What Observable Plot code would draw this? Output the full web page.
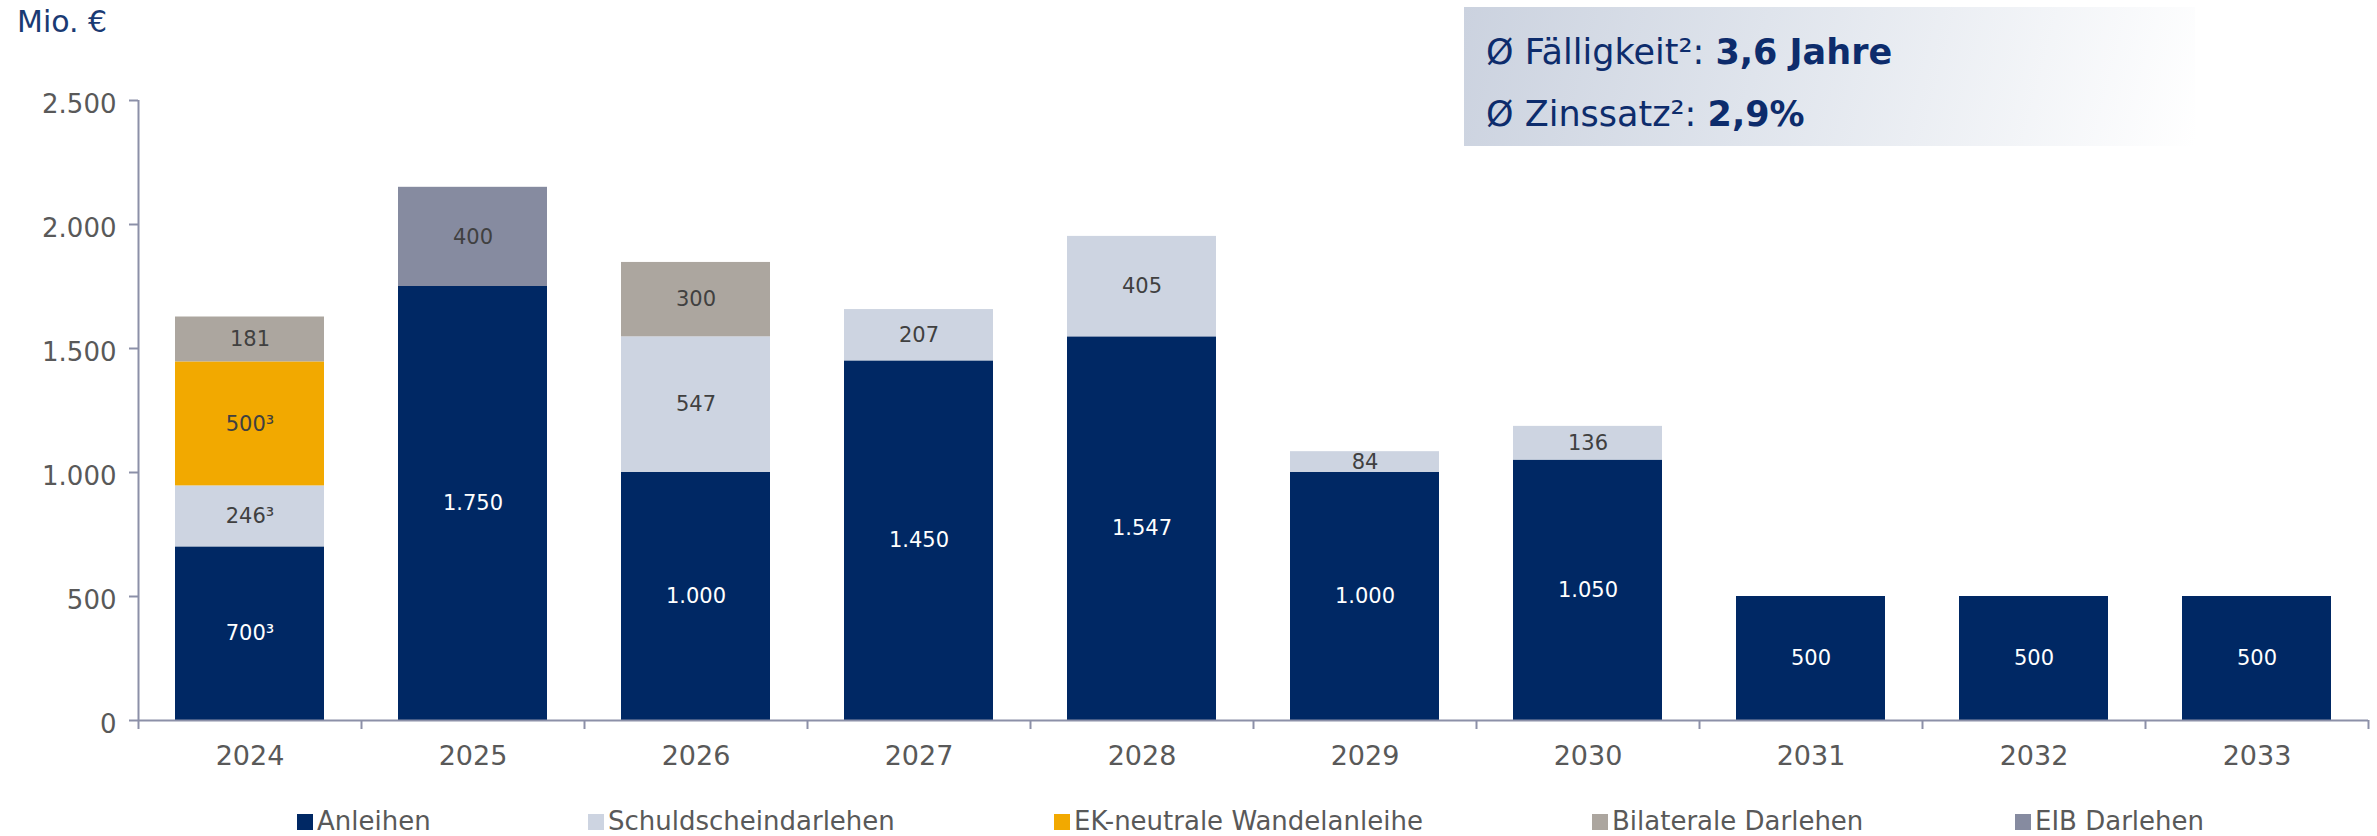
<!DOCTYPE html>
<html><head><meta charset="utf-8">
<script src="https://cdn.jsdelivr.net/npm/d3@7"></script>
<script src="https://cdn.jsdelivr.net/npm/@observablehq/plot@0.6"></script>
<style>
body{margin:0;background:#fff;font-family:"DejaVu Sans",Verdana,sans-serif;}
#wrap{position:relative;width:2377px;height:836px;overflow:hidden;}
#title{position:absolute;left:17px;top:7px;font-size:30px;line-height:30px;color:#1a3a73;white-space:nowrap;}
#box{position:absolute;left:1464px;top:7px;width:731px;height:139px;background:linear-gradient(105deg,#cbd2df 0%,#dfe4ec 40%,#ffffff 100%);}
.bl{position:absolute;left:22px;font-size:35px;line-height:35px;color:#0d2c6c;white-space:nowrap;}
.bl b{font-weight:bold;}
#legend{position:absolute;left:0;top:788px;width:2377px;height:48px;}
.li{position:absolute;top:0;height:48px;}
.sq{position:absolute;top:26px;left:0;width:16px;height:16px;}
.lt{position:absolute;top:20px;left:20px;font-size:26px;line-height:26px;color:#595959;white-space:nowrap;}
</style>
</head><body>
<div id="wrap">
  <div id="chart"></div>
  <div id="title"></div>
  <div id="box"></div>
  <div id="legend"></div>
</div>
<script>
// ---- data ----
const years = ["2024","2025","2026","2027","2028","2029","2030","2031","2032","2033"];
const seriesNames = ["Anleihen","Schuldscheindarlehen","EK-neutrale Wandelanleihe","Bilaterale Darlehen","EIB Darlehen"];
const seriesColors = ["#002864","#cdd4e1","#f2a900","#aca69f","#868ba0"];
const anleihen      = [700,1750,1000,1450,1547,1000,1050,500,500,500];
const schuldschein  = [246,0,547,207,405,84,136,0,0,0];
const wandelanleihe = [500,0,0,0,0,0,0,0,0,0];
const bilateral     = [181,0,300,0,0,0,0,0,0,0];
const eib           = [0,400,0,0,0,0,0,0,0,0];
const noteYear = "2024";
const noteSeries = ["Anleihen","Schuldscheindarlehen","EK-neutrale Wandelanleihe"];
const yTicks = [0,500,1000,1500,2000,2500];
const legendX = [297,588,1054,1592,2015];
const titleText = "Mio. €";
const boxLines = [["Ø Fälligkeit²: ","3,6 Jahre"],["Ø Zinssatz²: ","2,9%"]];

// ---- build ----
const seriesValues = [anleihen, schuldschein, wandelanleihe, bilateral, eib];
const fmt = d3.formatLocale({decimal:",",thousands:".",grouping:[3],currency:["","€"]}).format(",d");
const rows = [];
years.forEach((yr, i) => {
  let acc = 0;
  seriesNames.forEach((s, j) => {
    const v = seriesValues[j][i];
    if (v > 0) {
      const note = (yr === noteYear && noteSeries.includes(s)) ? "³" : "";
      rows.push({year: yr, series: s, value: v, y1: acc, y2: acc + v, mid: acc + v / 2, label: fmt(v) + note});
      acc += v;
    }
  });
});

const axisColor = "#8c90a8";
const plot = Plot.plot({
  width: 2377, height: 788,
  marginLeft: 138, marginRight: 9, marginTop: 100, marginBottom: 68,
  x: {type: "band", domain: years, padding: 0, label: null},
  y: {domain: [0, 2500], label: null},
  color: {domain: seriesNames, range: seriesColors},
  style: {fontFamily: "'DejaVu Sans', Verdana, sans-serif", fontSize: "26px", color: "#595959", background: "transparent"},
  marks: [
    Plot.barY(rows, {x: "year", y1: "y1", y2: "y2", fill: "series", insetLeft: 37, insetRight: 37}),
    Plot.text(rows.filter(d => d.series === "Anleihen"), {x: "year", y: "mid", text: "label", fill: "white", fontSize: 21}),
    Plot.text(rows.filter(d => d.series !== "Anleihen"), {x: "year", y: "mid", text: "label", fill: "#404040", fontSize: 21}),
    Plot.ruleY([0], {stroke: axisColor, strokeWidth: 2}),
    Plot.ruleX([years[0]], {y1: 2500, y2: 0, dx: -111.5, stroke: axisColor, strokeWidth: 2}),
    Plot.axisY({ticks: yTicks, tickSize: 9, tickFormat: () => "", stroke: axisColor, strokeWidth: 2, label: null}),
    Plot.axisY({ticks: yTicks, tickSize: 0, tickPadding: 22, dy: 4, tickFormat: fmt, fill: "#595959", fontSize: 26, label: null}),
    Plot.axisX({tickSize: 9, dx: -111.5, tickFormat: () => "", stroke: axisColor, strokeWidth: 2, label: null}),
    Plot.axisX({ticks: [years[years.length - 1]], tickSize: 9, dx: 111.5, tickFormat: () => "", stroke: axisColor, strokeWidth: 2, label: null}),
    Plot.axisX({tickSize: 0, tickPadding: 25, fill: "#595959", fontSize: 27, label: null})
  ]
});
document.getElementById("chart").appendChild(plot);

document.getElementById("title").textContent = titleText;
const box = document.getElementById("box");
boxLines.forEach((ln, i) => {
  const d = document.createElement("div");
  d.className = "bl";
  d.style.top = (28 + i * 62) + "px";
  d.appendChild(document.createTextNode(ln[0]));
  const b = document.createElement("b");
  b.textContent = ln[1];
  d.appendChild(b);
  box.appendChild(d);
});
const legend = document.getElementById("legend");
seriesNames.forEach((s, i) => {
  const it = document.createElement("div");
  it.className = "li";
  it.style.left = legendX[i] + "px";
  const sq = document.createElement("div");
  sq.className = "sq"; sq.style.background = seriesColors[i];
  const t = document.createElement("div");
  t.className = "lt"; t.textContent = s;
  it.appendChild(sq); it.appendChild(t);
  legend.appendChild(it);
});
</script>
</body></html>
